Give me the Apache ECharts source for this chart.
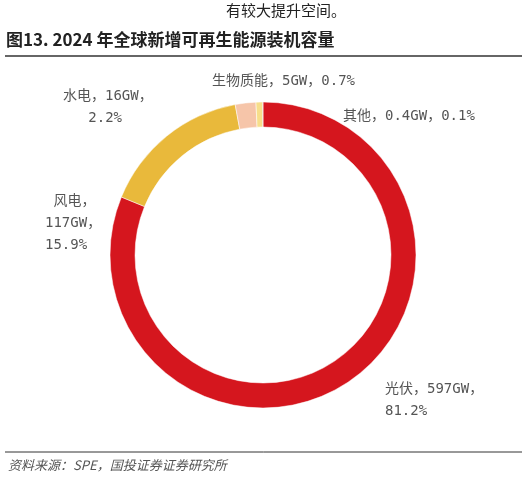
<!DOCTYPE html>
<html>
<head>
<meta charset="utf-8">
<script src="https://cdn.jsdelivr.net/npm/echarts@6/dist/echarts.min.js"></script>
<style>
html,body{margin:0;padding:0;background:#fff;}
#main{width:528px;height:491px;}
</style>
</head>
<body>
<div id="main"></div>
<script>
var names = ['光伏', '风电', '水电', '生物质能', '其他'];
var values = [597, 117, 16, 5, 0.4];
var valueText = ['597GW', '117GW', '16GW', '5GW', '0.4GW'];
var shares = ['81.2%', '15.9%', '2.2%', '0.7%', '0.1%'];
var colors = ['#D5161E', '#E9B93B', '#F6C5A9', '#F7DE8A', '#C9A64A'];

var chart = echarts.init(document.getElementById('main'));
var font = '"DejaVu Sans Mono", "Noto Sans CJK SC", monospace';

// 标签位置（与图片对应）
var labelPos = [
	{ x: 385, y: 378, lines: [names[0] + '，' + valueText[0] + '，', shares[0]] },
	{ x: 45, y: 190, lines: [' ' + names[1] + '，', valueText[1] + '，', shares[1]] },
	{ x: 63, y: 85, lines: [names[2] + '，' + valueText[2] + '，', '   ' + shares[2]] },
	{ x: 212, y: 70, lines: [names[3] + '，' + valueText[3] + '，' + shares[3]] },
	{ x: 343, y: 105, lines: [names[4] + '，' + valueText[4] + '，' + shares[4]] }
];

var graphics = [
	{ type: 'text', left: 226, top: 3, style: { text: '有较大提升空间。', font: '15px "Noto Sans CJK SC"', fill: '#222' } },
	{ type: 'text', left: 6, top: 31, style: { text: '图13. 2024 年全球新增可再生能源装机容量', font: 'bold 17px "Noto Sans CJK SC"', fill: '#222' } },
	{ type: 'line', shape: { x1: 5, y1: 56, x2: 522, y2: 56 }, style: { stroke: '#333', lineWidth: 1.5 } },
	{ type: 'line', shape: { x1: 5, y1: 452, x2: 522, y2: 452 }, style: { stroke: '#333', lineWidth: 1 } },
	{ type: 'text', left: 8, top: 459, style: { text: '资料来源：SPE，国投证券证券研究所', font: 'italic 13px "Noto Sans CJK SC"', fill: '#555' } }
];
labelPos.forEach(function(p) {
	graphics.push({ type: 'text', left: p.x, top: p.y,
		style: { text: p.lines.join('\n'), font: '14px ' + font, fill: '#555', lineHeight: 22 } });
});

var option = {
	animation: false,
	graphic: graphics,
	series: [{
		type: 'pie',
		center: [263, 255],
		radius: [128, 153],
		startAngle: 90,
		clockwise: true,
		label: { show: false },
		labelLine: { show: false },
		itemStyle: { borderColor: '#fff', borderWidth: 0.5 },
		data: names.map(function(n, i) {
			return { name: n, value: values[i], itemStyle: { color: colors[i] } };
		})
	}]
};
chart.setOption(option);
</script>
</body>
</html>
